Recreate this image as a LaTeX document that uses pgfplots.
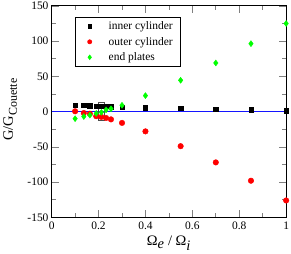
\documentclass[border=0pt]{standalone}
\usepackage{fontspec}
\setmainfont{Liberation Serif}
\usepackage{pgfplots}
\pgfplotsset{compat=1.18}
\definecolor{zblue}{RGB}{20,20,255}
\definecolor{zgreen}{RGB}{0,255,0}
\definecolor{zred}{RGB}{255,0,0}
\begin{document}
\begin{tikzpicture}
\begin{axis}[
  scale only axis, width=235pt, height=212pt,
  xmin=0, xmax=1, ymin=-150, ymax=150,
  xtick={0,0.2,0.4,0.6,0.8,1},
  xticklabels={0,0.2,0.4,0.6,0.8,1},
  ytick={-150,-100,-50,0,50,100,150},
  yticklabels={-150,-100,-50,0,50,100,150},
  minor x tick num=1, minor y tick num=1,
  tick align=inside, major tick length=7pt, minor tick length=4pt,
  tick style={line width=0.6pt},
  axis line style={line width=0.8pt},
  ticklabel style={font=\fontsize{11.5}{12}\selectfont},
  xticklabel style={inner sep=2pt, yshift=-2pt},
  yticklabel style={inner sep=2pt, xshift=-1pt},
  xlabel={Ω$_{\textit{e}}$ / Ω$_{\textit{i}}$},
  ylabel={G/G\raisebox{-4pt}{\fontsize{12}{12}\selectfont Couette}},
  xlabel style={font=\fontsize{14.5}{15}\selectfont, at={(axis description cs:0.5,-0.123)}, anchor=center},
  ylabel style={font=\fontsize{14.5}{15}\selectfont, at={(axis description cs:-0.177,0.51)}, anchor=center},
  legend style={at={(0.098,0.948)}, anchor=north west, draw=black, line width=0.6pt,
    font=\fontsize{11.5}{12}\selectfont, row sep=2pt, inner xsep=6pt, inner ysep=2.5pt,
    /tikz/every odd column/.append style={column sep=13pt}},
  legend image code/.code={%
    \node[inner sep=0pt, minimum width=0.45cm, minimum height=1pt, anchor=west] at (0cm,0cm) {};
    \draw[#1, only marks] plot coordinates {(0.32cm,0cm)};},
  legend cell align=left,
  clip=false,
]
\addplot[only marks, mark=square*, mark size=2.2pt, black,
  legend image post style={mark size=1.6pt}] coordinates {
(0.1,9.4) (0.137,9) (0.163,8.5) (0.19,8) (0.212,8) (0.232,7.5) (0.253,7)
(0.3,6.5) (0.4,5.5) (0.55,4.5) (0.7,3.5) (0.85,2.5) (1.0,1.5)};
\addlegendentry{inner cylinder}
\addplot[only marks, mark=*, mark size=2.8pt, zred, mark options={draw=zred, fill=zred},
  legend image post style={mark size=2.1pt}] coordinates {
(0.1,0.5) (0.137,-2) (0.163,-3) (0.19,-6.5) (0.212,-7.5) (0.232,-9) (0.253,-11)
(0.3,-16) (0.4,-28) (0.55,-49) (0.7,-72) (0.85,-98) (1.0,-126)};
\addlegendentry{outer cylinder}
\addplot[only marks, mark=diamond*, mark size=3pt, zgreen, mark options={draw=zgreen, fill=zgreen},
  legend image post style={mark size=2.3pt}] coordinates {
(0.1,-10) (0.137,-7) (0.163,-5) (0.19,-2.5) (0.212,-1) (0.232,2.5) (0.253,4)
(0.3,9) (0.4,22.7) (0.55,44.4) (0.7,69) (0.85,96.4) (1.0,125)};
\addlegendentry{end plates}
\addplot[draw=zblue, line width=0.9pt, no marks, forget plot] coordinates {(0,0) (1,0)};
\addplot[draw=black!70, line width=0.5pt, no marks, forget plot] coordinates {
(0.197,-12) (0.225,-12) (0.225,13) (0.197,13) (0.197,-12)};
\end{axis}
\end{tikzpicture}
\end{document}
